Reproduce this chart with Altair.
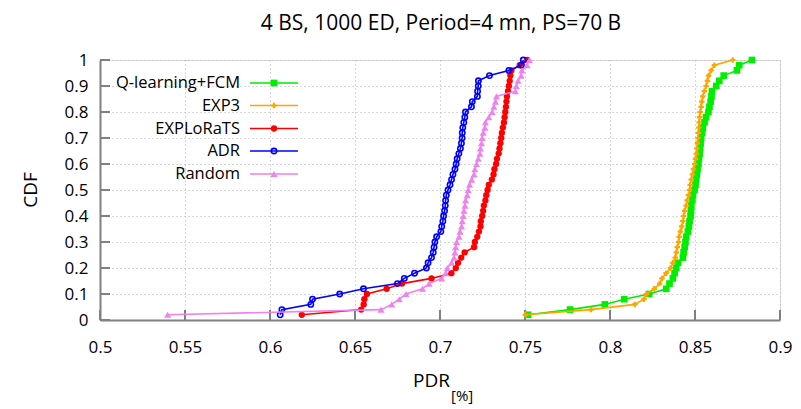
import altair as alt
import pandas as pd

title_text = "4 BS, 1000 ED, Period=4 mn, PS=70 B"
x_title_main = "PDR"
x_title_sub = "[%]"
y_title = "CDF"

series_names = ["Q-learning+FCM", "EXP3", "EXPLoRaTS", "ADR", "Random"]
series_colors = ["#00ee00", "#ffa500", "#ff0000", "#0000ff", "#ee82ee"]
series_shapes = ["square", "cross", "circle", "circle", "triangle-up"]
series_filled = [True, True, True, False, True]
series_sizes = [45, 30, 40, 28, 50]

cdf_levels = [
    0.02, 0.04, 0.06, 0.08, 0.10, 0.12, 0.14, 0.16, 0.18, 0.20,
    0.22, 0.24, 0.26, 0.28, 0.30, 0.32, 0.34, 0.36, 0.38, 0.40,
    0.42, 0.44, 0.46, 0.48, 0.50, 0.52, 0.54, 0.56, 0.58, 0.60,
    0.62, 0.64, 0.66, 0.68, 0.70, 0.72, 0.74, 0.76, 0.78, 0.80,
    0.82, 0.84, 0.86, 0.88, 0.90, 0.92, 0.94, 0.96, 0.98, 1.00,
]

pdr_qlearning = [
    0.7518, 0.7765, 0.7970, 0.8084, 0.8230, 0.8331, 0.8350, 0.8370, 0.8380, 0.8390,
    0.8400, 0.8429, 0.8433, 0.8439, 0.8444, 0.8448, 0.8458, 0.8464, 0.8468, 0.8474,
    0.8476, 0.8478, 0.8484, 0.8488, 0.8497, 0.8503, 0.8507, 0.8511, 0.8515, 0.8520,
    0.8523, 0.8527, 0.8530, 0.8533, 0.8536, 0.8542, 0.8546, 0.8556, 0.8565, 0.8579,
    0.8585, 0.8592, 0.8597, 0.8600, 0.8625, 0.8643, 0.8669, 0.8747, 0.8760, 0.8835,
]
pdr_exp3 = [
    0.7502, 0.7888, 0.8146, 0.8200, 0.8214, 0.8260, 0.8292, 0.8306, 0.8330, 0.8356,
    0.8370, 0.8384, 0.8390, 0.8396, 0.8403, 0.8407, 0.8414, 0.8422, 0.8429, 0.8433,
    0.8439, 0.8448, 0.8454, 0.8462, 0.8468, 0.8472, 0.8478, 0.8485, 0.8491, 0.8498,
    0.8503, 0.8508, 0.8511, 0.8514, 0.8517, 0.8520, 0.8523, 0.8525, 0.8527, 0.8531,
    0.8536, 0.8540, 0.8546, 0.8555, 0.8565, 0.8573, 0.8580, 0.8595, 0.8614, 0.8722,
]
pdr_explorats = [
    0.6187, 0.6536, 0.6551, 0.6555, 0.6570, 0.6686, 0.6776, 0.6950, 0.7067, 0.7093,
    0.7106, 0.7125, 0.7145, 0.7200, 0.7205, 0.7219, 0.7229, 0.7238, 0.7240, 0.7248,
    0.7254, 0.7258, 0.7267, 0.7272, 0.7280, 0.7287, 0.7305, 0.7315, 0.7320, 0.7330,
    0.7335, 0.7345, 0.7350, 0.7355, 0.7360, 0.7364, 0.7370, 0.7376, 0.7380, 0.7384,
    0.7388, 0.7391, 0.7394, 0.7400, 0.7405, 0.7410, 0.7414, 0.7420, 0.7469, 0.7513,
]
pdr_adr = [
    0.6060, 0.6070, 0.6240, 0.6250, 0.6410, 0.6550, 0.6750, 0.6790, 0.6850, 0.6920,
    0.6930, 0.6950, 0.6960, 0.6965, 0.6970, 0.6980, 0.7005, 0.7010, 0.7017, 0.7021,
    0.7027, 0.7031, 0.7033, 0.7037, 0.7047, 0.7059, 0.7068, 0.7076, 0.7088, 0.7095,
    0.7101, 0.7111, 0.7120, 0.7126, 0.7130, 0.7131, 0.7134, 0.7140, 0.7146, 0.7150,
    0.7185, 0.7190, 0.7220, 0.7221, 0.7225, 0.7226, 0.7291, 0.7405, 0.7479, 0.7490,
]
pdr_random = [
    0.5398, 0.6653, 0.6716, 0.6760, 0.6800, 0.6897, 0.6936, 0.7010, 0.7033, 0.7043,
    0.7068, 0.7083, 0.7088, 0.7092, 0.7098, 0.7112, 0.7118, 0.7127, 0.7131, 0.7137,
    0.7141, 0.7147, 0.7150, 0.7160, 0.7166, 0.7174, 0.7186, 0.7200, 0.7205, 0.7215,
    0.7225, 0.7235, 0.7238, 0.7244, 0.7248, 0.7254, 0.7264, 0.7267, 0.7287, 0.7307,
    0.7317, 0.7326, 0.7332, 0.7443, 0.7449, 0.7459, 0.7477, 0.7482, 0.7512, 0.7526,
]
series_values = [pdr_qlearning, pdr_exp3, pdr_explorats, pdr_adr, pdr_random]

x_ticks = [0.5, 0.55, 0.6, 0.65, 0.7, 0.75, 0.8, 0.85, 0.9]
y_ticks = [0, 0.1, 0.2, 0.3, 0.4, 0.5, 0.6, 0.7, 0.8, 0.9, 1]

FONT = "Open Sans"
AXIS_GRAY = "#808080"
W, H = 680, 260

xs = alt.Scale(domain=[0.5, 0.9], nice=False, zero=False)
ys = alt.Scale(domain=[0, 1], nice=False)

x_axis = alt.Axis(values=x_ticks, format=".2~f", title=None, grid=True,
                  gridDash=[1, 3], gridColor="#b0b0b0", gridWidth=1,
                  ticks=False, tickSize=0, domainColor=AXIS_GRAY, domainWidth=2,
                  labelFont=FONT, labelFontSize=17, labelColor="#000000",
                  labelPadding=19, labelFlush=False, labelOverlap=False)
y_axis = alt.Axis(values=y_ticks, format=".1~f", title=None, grid=True,
                  gridDash=[1, 3], gridColor="#b0b0b0", gridWidth=1,
                  ticks=False, tickSize=0, domainColor=AXIS_GRAY, domainWidth=2,
                  labelFont=FONT, labelFontSize=17, labelColor="#000000",
                  labelPadding=12, labelFlush=False, labelOverlap=False)

X = alt.X("x:Q", scale=xs, axis=x_axis)
Y = alt.Y("y:Q", scale=ys, axis=y_axis)

layers = []

# inward tick marks
xt = pd.DataFrame({"x": x_ticks})
layers.append(alt.Chart(xt).mark_rule(color=AXIS_GRAY, strokeWidth=2).encode(
    x=X, y=alt.value(H), y2=alt.value(H - 10)))
yt = pd.DataFrame({"y": y_ticks})
layers.append(alt.Chart(yt).mark_rule(color=AXIS_GRAY, strokeWidth=2).encode(
    y=Y, x=alt.value(0), x2=alt.value(10)))

for name, vals, col, shp, fil, sz in zip(series_names, series_values, series_colors,
                                          series_shapes, series_filled, series_sizes):
    df = pd.DataFrame({"x": vals, "y": cdf_levels, "series": name})
    layers.append(alt.Chart(df).mark_line(color=col, strokeWidth=1.6).encode(
        x=X, y=Y, order=alt.Order("y:Q")))
    layers.append(alt.Chart(df).mark_point(shape=shp, filled=fil, size=sz, color=col,
                                           opacity=1, strokeWidth=1.6).encode(x=X, y=Y))

# legend (inside, top-left, labels right-aligned, sample on the right)
legend_rows = [23, 45.5, 68.5, 91, 114]
for name, col, shp, fil, sz, ly in zip(series_names, series_colors, series_shapes,
                                       series_filled, series_sizes, legend_rows):
    ld = pd.DataFrame({"label": [name]})
    layers.append(alt.Chart(ld).mark_text(align="right", baseline="middle", font=FONT,
                                          fontSize=16.5, color="#000000").encode(
        text="label:N", x=alt.value(140), y=alt.value(ly)))
    layers.append(alt.Chart(ld).mark_rule(color=col, strokeWidth=1.6).encode(
        x=alt.value(150), x2=alt.value(198), y=alt.value(ly)))
    layers.append(alt.Chart(ld).mark_point(shape=shp, filled=fil, size=sz, color=col,
                                           opacity=1, strokeWidth=1.6).encode(
        x=alt.value(174), y=alt.value(ly)))

# titles
td = pd.DataFrame({"t": [title_text]})
layers.append(alt.Chart(td).mark_text(align="center", baseline="middle", font=FONT,
                                      fontSize=21, color="#000000").encode(
    text="t:N", x=alt.value(341), y=alt.value(-36)))
yd = pd.DataFrame({"t": [y_title]})
layers.append(alt.Chart(yd).mark_text(align="center", baseline="middle", font=FONT,
                                      fontSize=19, angle=270, color="#000000").encode(
    text="t:N", x=alt.value(-69), y=alt.value(130)))
xd1 = pd.DataFrame({"t": [x_title_main]})
layers.append(alt.Chart(xd1).mark_text(align="right", baseline="alphabetic", font=FONT,
                                       fontSize=19, color="#000000").encode(
    text="t:N", x=alt.value(350), y=alt.value(327)))
xd2 = pd.DataFrame({"t": [x_title_sub]})
layers.append(alt.Chart(xd2).mark_text(align="left", baseline="alphabetic", font=FONT,
                                       fontSize=15, color="#000000").encode(
    text="t:N", x=alt.value(351), y=alt.value(341)))

chart = alt.layer(*layers).properties(
    width=W, height=H,
    padding={"left": 92, "top": 52, "right": 13, "bottom": 86},
    autosize=alt.AutoSizeParams(type="none"),
).configure_view(stroke=None).configure(background="white")

chart.save("out.html", embed_options={"renderer": "svg", "actions": False})
